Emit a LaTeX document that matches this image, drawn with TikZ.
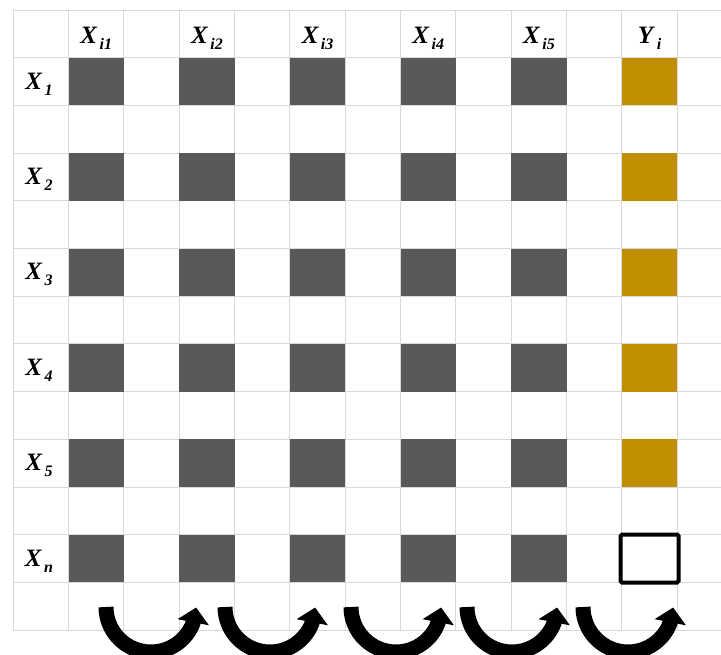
\documentclass[tikz,border=0pt]{standalone}
\usepackage{fontspec}
\setmainfont{Liberation Serif}
\usetikzlibrary{arrows.meta,calc}
\definecolor{cellgray}{HTML}{595959}
\definecolor{cellgold}{HTML}{BF8F00}
\definecolor{gridline}{HTML}{D9D9D9}
% variable name with a lowered bold-italic index
\newcommand{\varlab}[2]{\textbf{\textit{#1}}\kern2pt\raisebox{-6pt}{\fontsize{16}{16}\selectfont\textbf{\textit{#2}}}}
\begin{document}
\begin{tikzpicture}[x=1pt,y=-1pt,
  cellbox/.style={minimum width=55.33pt,minimum height=47.7pt,inner sep=0pt,outer sep=0pt},
  graycell/.style={cellbox,fill=cellgray},
  goldcell/.style={cellbox,fill=cellgold},
  emptycell/.style={cellbox,minimum width=58pt,minimum height=48pt,draw=black,line width=4pt,rounded corners=1.5pt},
  varname/.style={anchor=base,inner sep=0pt,font=\fontsize{25}{25}\selectfont},
  turnarrow/.style={line width=15pt,-{Triangle[width=31pt,length=15pt]}}]
\useasboundingbox (0,0) rectangle (721,654);
\fill[white] (0,0) rectangle (721,654);
% grid
\foreach \k in {0,...,12}
  \draw[gridline,line width=1pt] ({13.3+55.33*\k},10) -- ({13.3+55.33*\k},630);
\foreach \r in {0,...,13}
  \draw[gridline,line width=1pt] (13.3,{10+47.7*\r}) -- (721,{10+47.7*\r});
% filled cells
\foreach \c in {1,3,5,7,9}
  \foreach \r in {1,3,5,7,9,11}
    \node[graycell] (g-\c-\r) at ({13.3+55.33*\c+27.67},{10+47.7*\r+23.85}) {};
\foreach \r in {1,3,5,7,9}
  \node[goldcell] (y-\r) at ({13.3+55.33*11+27.67},{10+47.7*\r+23.85}) {};
\node[emptycell] (y-11) at ({13.3+55.33*11+27.67},{10+47.7*11+23.85}) {};
% column headers
\foreach \c/\t in {1/{i1},3/{i2},5/{i3},7/{i4},9/{i5}}
  \node[varname] (h-\c) at ({13.3+55.33*\c+27.67},43) {\varlab{X}{\t}};
\node[varname] (h-11) at ({13.3+55.33*11+27.67},43) {\varlab{Y}{i}};
% row labels
\foreach \r/\t in {1/1,3/2,5/3,7/4,9/5,11/n}
  \node[varname] (r-\r) at (39,{10+47.7*\r+23.85+7.5}) {\varlab{X}{\t}};
% turning arrows below the grid: a half turn ending in an upward tip
\foreach \i/\s in {1/106,2/225,3/351,4/467,5/583}{
  \coordinate (a\i s) at (\s,607);
  \coordinate (a\i e) at ({\s+45+42.1+3},607.5);
  \draw[turnarrow] (a\i s) arc[start angle=180,end angle=20.6,radius=45] -- (a\i e);
}
\end{tikzpicture}
\end{document}
